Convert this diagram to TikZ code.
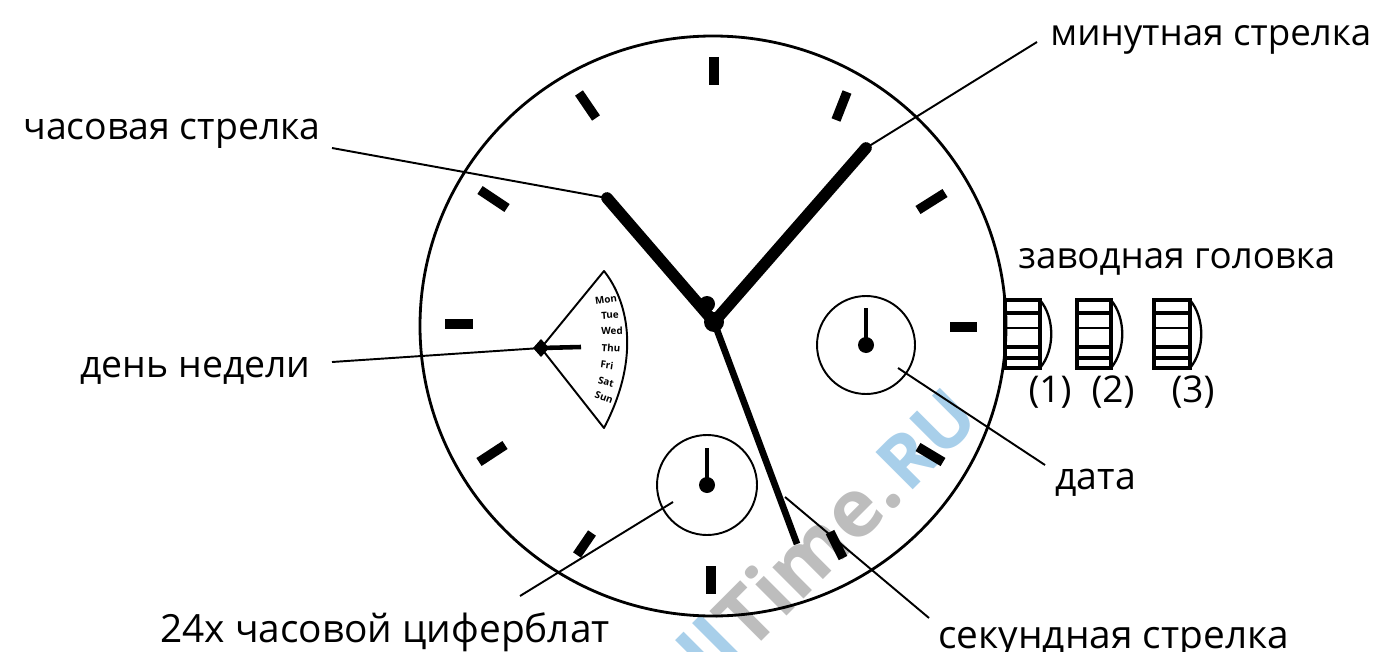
\documentclass[tikz,border=0pt]{standalone}
\usepackage{fontspec}
\setmainfont{Open Sans}
\usetikzlibrary{calc}
\definecolor{markblue}{HTML}{A8CFEA}
\definecolor{markgray}{HTML}{BDBDBD}
\tikzset{
    label text/.style={anchor=base west, font=\fontsize{21.3}{21.3}\selectfont, inner sep=0pt},
    wide text/.style={label text, font=\fontsize{22.1}{22.1}\selectfont},
    narrow text/.style={label text, font=\fontsize{20.9}{20.9}\selectfont},
    num text/.style={anchor=base, font=\fontsize{21}{21}\selectfont, inner sep=0pt},
    day text/.style={font=\fontsize{5.6}{5.6}\selectfont\bfseries, inner sep=0pt},
    leader/.style={line width=1.1pt},
    thin ring/.style={line width=1.1pt},
    hour mark/.style={line width=5.4pt},
}
\newcommand{\Crown}[2]{%
    \draw[line width=1.8pt] (#1,300) rectangle (#1+#2,368);
    \draw[line width=1.3pt] (#1+#2,300) .. controls (#1+#2+15,318) and (#1+#2+15,350) .. (#1+#2,368);
    \foreach \ypos/\wd in {313/1.8,328/1.4,347/2.2,358/1.8}{
        \draw[line width=\wd pt] (#1,\ypos) -- (#1+#2,\ypos);
    }%
}
\begin{document}
\begin{tikzpicture}[x=0.02cm, y=-0.02cm]
    \useasboundingbox (0,0) rectangle (1382,652);

    % watermark
    \node[rotate=45, inner sep=0pt, anchor=base west, font=\fontsize{46}{46}\selectfont\bfseries] (mark) at (674.5,728.5)
        {\textcolor{markblue}{All}\textcolor{markgray}{Time.}\kern2pt\textcolor{markblue}{\fontsize{42}{42}\selectfont RU}};

    % case and marks
    \draw[line width=1.6pt] (713,326) ellipse (293 and 290);
    \foreach \xa/\ya/\xb/\yb in {714/57/714/85, 847/92/836/120, 945/193/918/210, 950/327/977/327,
        918/447/943/462, 830/532/843/558, 711/566/711/594, 592/533/577/555, 479/462/505/445,
        445/324/473/324, 480/190/507/208, 579/93/596/118}{
        \draw[hour mark] (\xa,\ya) -- (\xb,\yb);
    }

    % hands
    \coordinate (hub) at (714,322);
    \coordinate (hourtip) at (607,198);
    \coordinate (mintip) at (866,148);
    \coordinate (sectip) at (797,544);
    \draw[line width=6.6pt, line cap=round] (hub) -- (hourtip);
    \draw[line width=6.6pt, line cap=round] (hub) -- (mintip);
    \fill (hub) circle (10);
    \fill (707,304) circle (8);
    \draw[line width=3.8pt] (hub) -- (sectip);

    % day sector
    \coordinate (dayhub) at (541,348);
    \coordinate (daytop) at (604,271);
    \coordinate (daybot) at (604,428);
    \draw[line width=1.1pt, line join=round] (dayhub) -- (daytop) .. controls (627,300) and (642,355) .. (daybot) -- cycle;
    \fill (541,339) -- (549,348) -- (541,357) -- (533,348) -- cycle;
    \draw[line width=2.6pt] (dayhub) -- (581,347);
    \foreach \dayname/\xd/\yd/\rd in {Mon/606/300/8, Tue/610/315/4, Wed/612/331/1, Thu/611/348/-4,
        Fri/607/365/-8, Sat/606/382/-14, Sun/604/397/-20}{
        \node[day text, rotate=\rd] (day\dayname) at (\xd,\yd) {\dayname};
    }

    % small dials
    \coordinate (datehub) at (866,345);
    \coordinate (gmthub) at (707,485);
    \draw[thin ring] (datehub) circle (49);
    \draw[thin ring] (gmthub) circle (50);
    \foreach \hubname in {datehub,gmthub}{
        \fill (\hubname) circle (8);
        \draw[line width=2.8pt] (\hubname) -- ++(0,-37);
    }

    % crown positions
    \Crown{1005}{35}
    \Crown{1077}{34}
    \Crown{1154}{36}

    % labels
    \node[narrow text] (minute) at (1050,46) {минутная стрелка};
    \node[label text] (hour) at (23,139) {часовая стрелка};
    \node[narrow text] (crown) at (1018,268) {заводная головка};
    \node[label text] (weekday) at (80,377) {день недели};
    \node[label text] (date) at (1055,489) {дата};
    \node[wide text] (gmt) at (160,642) {24х часовой циферблат};
    \node[wide text] (second) at (938,648) {секундная стрелка};
    \node[num text] (pos1) at (1050,402) {(1)};
    \node[num text] (pos2) at (1113,402) {(2)};
    \node[num text] (pos3) at (1193,402) {(3)};

    % leaders
    \coordinate (minend) at (1037,42);
    \coordinate (hourend) at (332,148);
    \coordinate (dayend) at (332,362);
    \coordinate (dateend) at (1045,465);
    \coordinate (datetip) at (898,368);
    \coordinate (gmtend) at (520,596);
    \coordinate (gmttip) at (673,502);
    \coordinate (secend) at (929,618);
    \coordinate (sectip2) at (785,497);
    \draw[leader] (minend) -- (mintip);
    \draw[leader] (hourend) -- (hourtip);
    \draw[leader] (dayend) -- (dayhub);
    \draw[leader] (dateend) -- (datetip);
    \draw[leader] (gmtend) -- (gmttip);
    \draw[leader] (secend) -- (sectip2);
\end{tikzpicture}
\end{document}
